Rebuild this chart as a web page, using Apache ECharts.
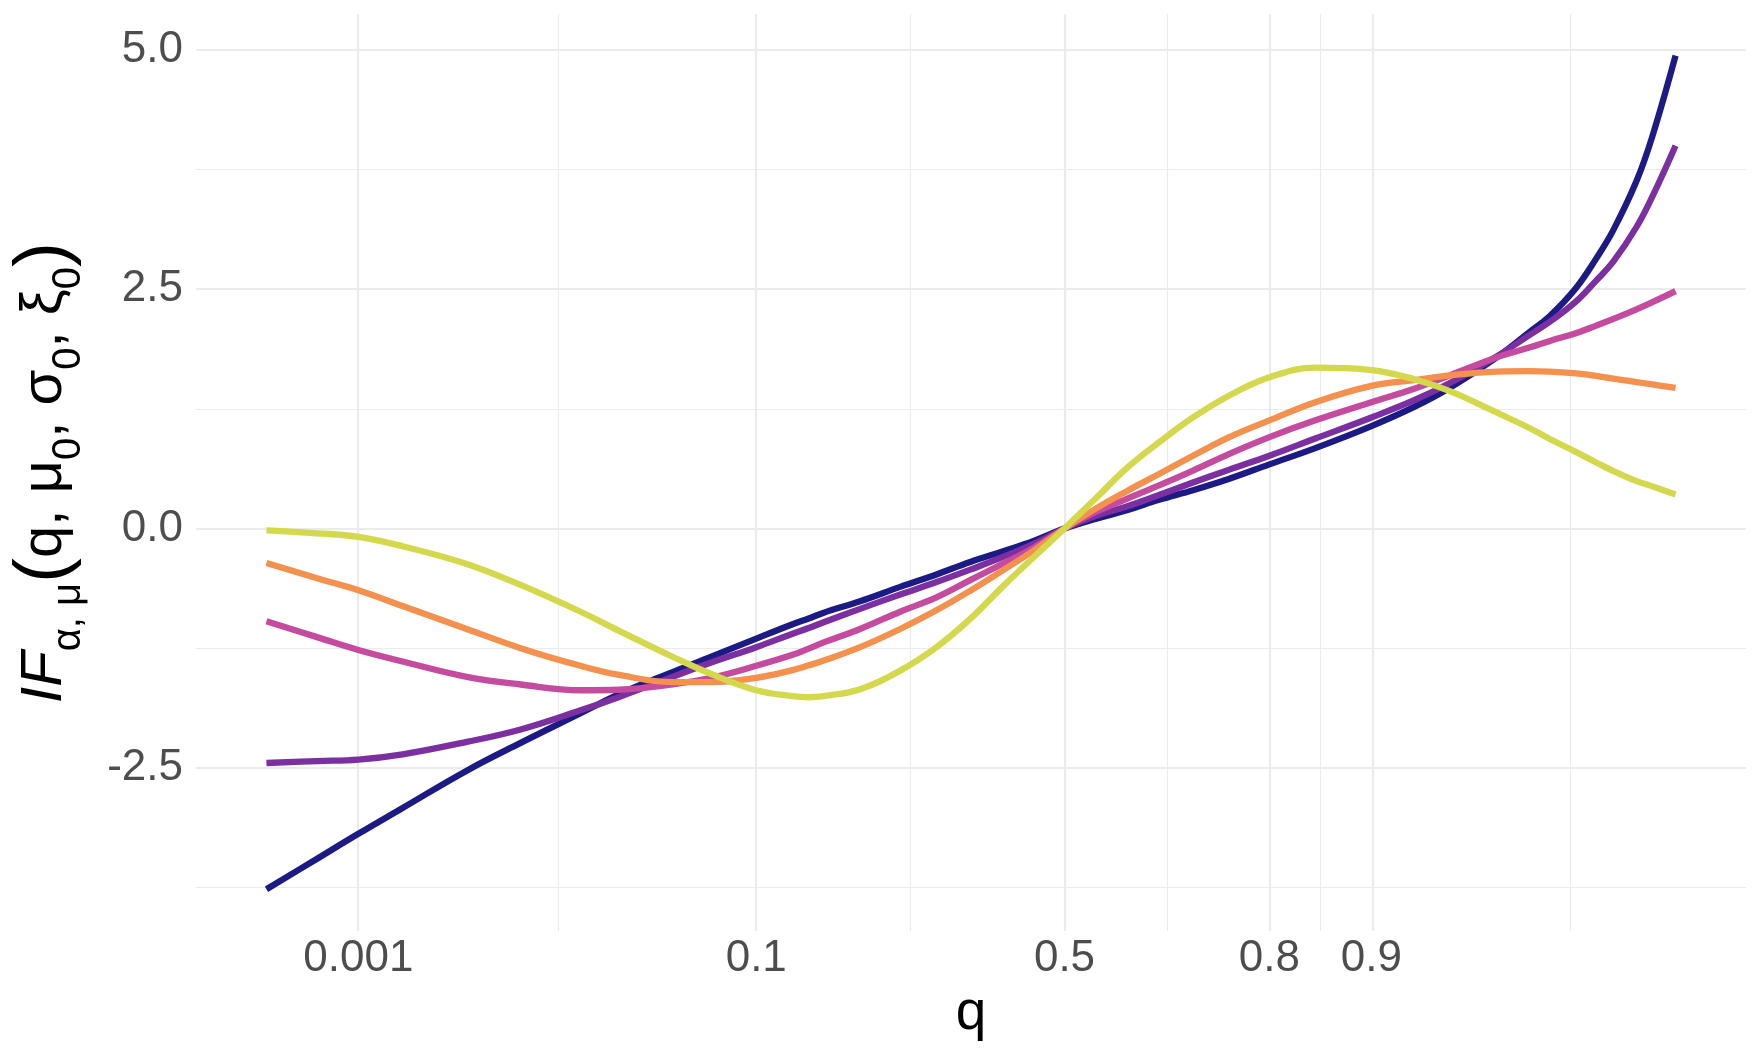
<!DOCTYPE html>
<html>
<head>
<meta charset="utf-8">
<script src="https://cdn.jsdelivr.net/npm/echarts@6/dist/echarts.min.js"></script>
<style>
  html, body { margin: 0; padding: 0; background: #ffffff; }
  #chart { width: 1760px; height: 1060px; }
</style>
</head>
<body>
<div id="chart"></div>
<script>
// ---------------- data ----------------
const qValues = [0.0002, 0.0005, 0.001, 0.002, 0.005, 0.01, 0.02, 0.03, 0.05, 0.07,
  0.1, 0.13, 0.145, 0.16, 0.2, 0.25, 0.3, 0.35, 0.4, 0.45, 0.5,
  0.55, 0.6, 0.65, 0.7, 0.75, 0.8, 0.85, 0.9, 0.93, 0.95,
  0.97, 0.98, 0.985, 0.99, 0.993, 0.995, 0.997, 0.998, 0.999];

const ifCurve1 = [-3.77, -3.45, -3.19, -2.92, -2.53, -2.24, -1.93, -1.73, -1.50, -1.34,
  -1.15, -1.00, -0.94, -0.88, -0.76, -0.61, -0.48, -0.35, -0.24, -0.13, 0,
  0.10, 0.19, 0.30, 0.40, 0.52, 0.67, 0.84, 1.07, 1.27, 1.47,
  1.79, 2.05, 2.22, 2.51, 2.82, 3.12, 3.63, 4.10, 4.94];

const ifCurve2 = [-2.45, -2.43, -2.415, -2.36, -2.23, -2.10, -1.90, -1.76, -1.55, -1.40,
  -1.24, -1.10, -1.04, -0.98, -0.84, -0.69, -0.56, -0.43, -0.30, -0.16, 0,
  0.13, 0.23, 0.35, 0.48, 0.615, 0.76, 0.94, 1.16, 1.34, 1.52,
  1.80, 2.02, 2.16, 2.37, 2.59, 2.79, 3.15, 3.47, 4.00];

const ifCurve3 = [-0.97, -1.135, -1.27, -1.39, -1.55, -1.63, -1.69, -1.685, -1.63, -1.56,
  -1.435, -1.32, -1.255, -1.19, -1.05, -0.87, -0.72, -0.54, -0.37, -0.20, 0,
  0.17, 0.31, 0.45, 0.605, 0.78, 0.955, 1.13, 1.32, 1.46, 1.60,
  1.79, 1.89, 1.96, 2.04, 2.12, 2.19, 2.29, 2.365, 2.48];

const ifCurve4 = [-0.36, -0.52, -0.645, -0.81, -1.05, -1.25, -1.435, -1.53, -1.605, -1.605,
  -1.56, -1.48, -1.43, -1.38, -1.24, -1.05, -0.855, -0.65, -0.44, -0.23, 0,
  0.205, 0.39, 0.57, 0.76, 0.955, 1.13, 1.32, 1.49, 1.55, 1.60,
  1.64, 1.645, 1.64, 1.62, 1.595, 1.565, 1.53, 1.505, 1.47];

const ifCurve5 = [-0.02, -0.05, -0.087, -0.185, -0.37, -0.59, -0.87, -1.07, -1.34, -1.52,
  -1.69, -1.752, -1.763, -1.752, -1.68, -1.485, -1.24, -0.945, -0.61, -0.30, 0,
  0.31, 0.63, 0.90, 1.16, 1.39, 1.58, 1.68, 1.655, 1.56, 1.435,
  1.21, 1.05, 0.935, 0.80, 0.69, 0.60, 0.495, 0.44, 0.356];

const seriesNames = ['curve 1', 'curve 2', 'curve 3', 'curve 4', 'curve 5'];
const seriesColors = ['#1C1A84', '#7B2FA0', '#C44B9E', '#F4914E', '#D4D84C'];

const qBreaks = [0.001, 0.1, 0.5, 0.8, 0.9];
const qBreakLabels = ['0.001', '0.1', '0.5', '0.8', '0.9'];
const yBreaks = [-2.5, 0, 2.5, 5];

// ---------------- x-axis transform (GEV quantile scale, xi = -0.3) ----------------
const XI = -0.3;
function gevScale(q) { return (Math.pow(-Math.log(q), -XI) - 1) / XI; }

const allCurves = [ifCurve1, ifCurve2, ifCurve3, ifCurve4, ifCurve5];
const xs = qValues.map(gevScale);
const xLo = Math.min(...xs), xHi = Math.max(...xs);
const xPad = (xHi - xLo) * 0.05;
const xMin = xLo - xPad, xMax = xHi + xPad;
const allY = [].concat(...allCurves);
const yLo = Math.min(...allY), yHi = Math.max(...allY);
const yPad = (yHi - yLo) * 0.05;
const yMin = yLo - yPad, yMax = yHi + yPad;

function minorBreaks(b, lo, hi) {
  const bb = b.slice();
  const bd = bb[1] - bb[0];
  if (lo < bb[0]) bb.unshift(bb[0] - bd);
  if (hi > bb[bb.length - 1]) bb.push(bb[bb.length - 1] + bd);
  const out = [];
  for (let i = 0; i < bb.length - 1; i++) out.push((bb[i] + bb[i + 1]) / 2);
  return out.filter(v => v >= lo && v <= hi);
}
const xMajor = qBreaks.map(gevScale);
const xMinor = minorBreaks(xMajor, xMin, xMax);
const yMinor = minorBreaks(yBreaks, yMin, yMax);

const gridColor = '#EBEBEB';
const gridLines = [];
xMinor.forEach(v => gridLines.push({ xAxis: v, lineStyle: { width: 1.1, color: gridColor, type: 'solid' } }));
yMinor.forEach(v => gridLines.push({ yAxis: v, lineStyle: { width: 1.1, color: gridColor, type: 'solid' } }));
xMajor.forEach(v => gridLines.push({ xAxis: v, lineStyle: { width: 2.2, color: gridColor, type: 'solid' } }));
yBreaks.forEach(v => gridLines.push({ yAxis: v, lineStyle: { width: 2.2, color: gridColor, type: 'solid' } }));

const FONT = "'Liberation Sans', Arial, Helvetica, sans-serif";

const series = allCurves.map((vals, i) => ({
  name: seriesNames[i],
  type: 'line',
  data: qValues.map((q, j) => [gevScale(q), vals[j]]),
  showSymbol: false,
  smooth: 0.4,
  lineStyle: { width: 6.3, color: seriesColors[i], cap: 'butt' },
  itemStyle: { color: seriesColors[i] },
  z: 3,
  animation: false,
  silent: true
}));
series.unshift({
  name: 'grid',
  type: 'line',
  data: [[xMin, null]],
  showSymbol: false,
  silent: true,
  animation: false,
  z: 1,
  markLine: {
    silent: true,
    z: 1,
    animation: false,
    symbol: ['none', 'none'],
    label: { show: false },
    emphasis: { disabled: true },
    data: gridLines
  }
});

const chart = echarts.init(document.getElementById('chart'), null, { renderer: 'canvas' });
chart.setOption({
  backgroundColor: '#ffffff',
  animation: false,
  grid: { left: 196, right: 14, top: 14, bottom: 129, containLabel: false, outerBoundsMode: 'none' },
  xAxis: {
    type: 'value',
    min: xMin,
    max: xMax,
    axisLine: { show: false },
    axisTick: { show: false },
    splitLine: { show: false },
    axisLabel: {
      customValues: xMajor,
      hideOverlap: false,
      interval: 0,
      margin: 6,
      fontSize: 44,
      fontFamily: FONT,
      color: '#4D4D4D',
      formatter: function (v) {
        let best = 0;
        for (let i = 1; i < xMajor.length; i++) {
          if (Math.abs(xMajor[i] - v) < Math.abs(xMajor[best] - v)) best = i;
        }
        return qBreakLabels[best];
      }
    },
    name: 'q',
    nameLocation: 'middle',
    nameGap: 26,
    nameTextStyle: { fontSize: 55, fontFamily: FONT, color: '#000000' }
  },
  yAxis: {
    type: 'value',
    min: yMin,
    max: yMax,
    axisLine: { show: false },
    axisTick: { show: false },
    splitLine: { show: false },
    axisLabel: {
      customValues: yBreaks,
      margin: 13,
      fontSize: 44,
      fontFamily: FONT,
      color: '#4D4D4D',
      formatter: v => v.toFixed(1)
    },
    name: '{it|IF}{sub|α, μ}{p|(}{n|q, μ}{sub|0}{n|, σ}{sub|0}{n|, ξ}{sub|0}{p|)}',
    nameLocation: 'middle',
    nameRotate: 90,
    nameGap: 107,
    nameTextStyle: {
      fontFamily: FONT,
      color: '#000000',
      rich: {
        it: { fontSize: 58, fontStyle: 'italic', fontFamily: FONT, color: '#000', lineHeight: 88, verticalAlign: 'middle' },
        n: { fontSize: 58, fontFamily: FONT, color: '#000', lineHeight: 88, verticalAlign: 'middle' },
        p: { fontSize: 75, fontFamily: FONT, color: '#000', lineHeight: 88, verticalAlign: 'middle' },
        sub: { fontSize: 40, fontFamily: FONT, color: '#000', lineHeight: 35, verticalAlign: 'bottom' }
      }
    }
  },
  series: series
});
</script>
</body>
</html>
